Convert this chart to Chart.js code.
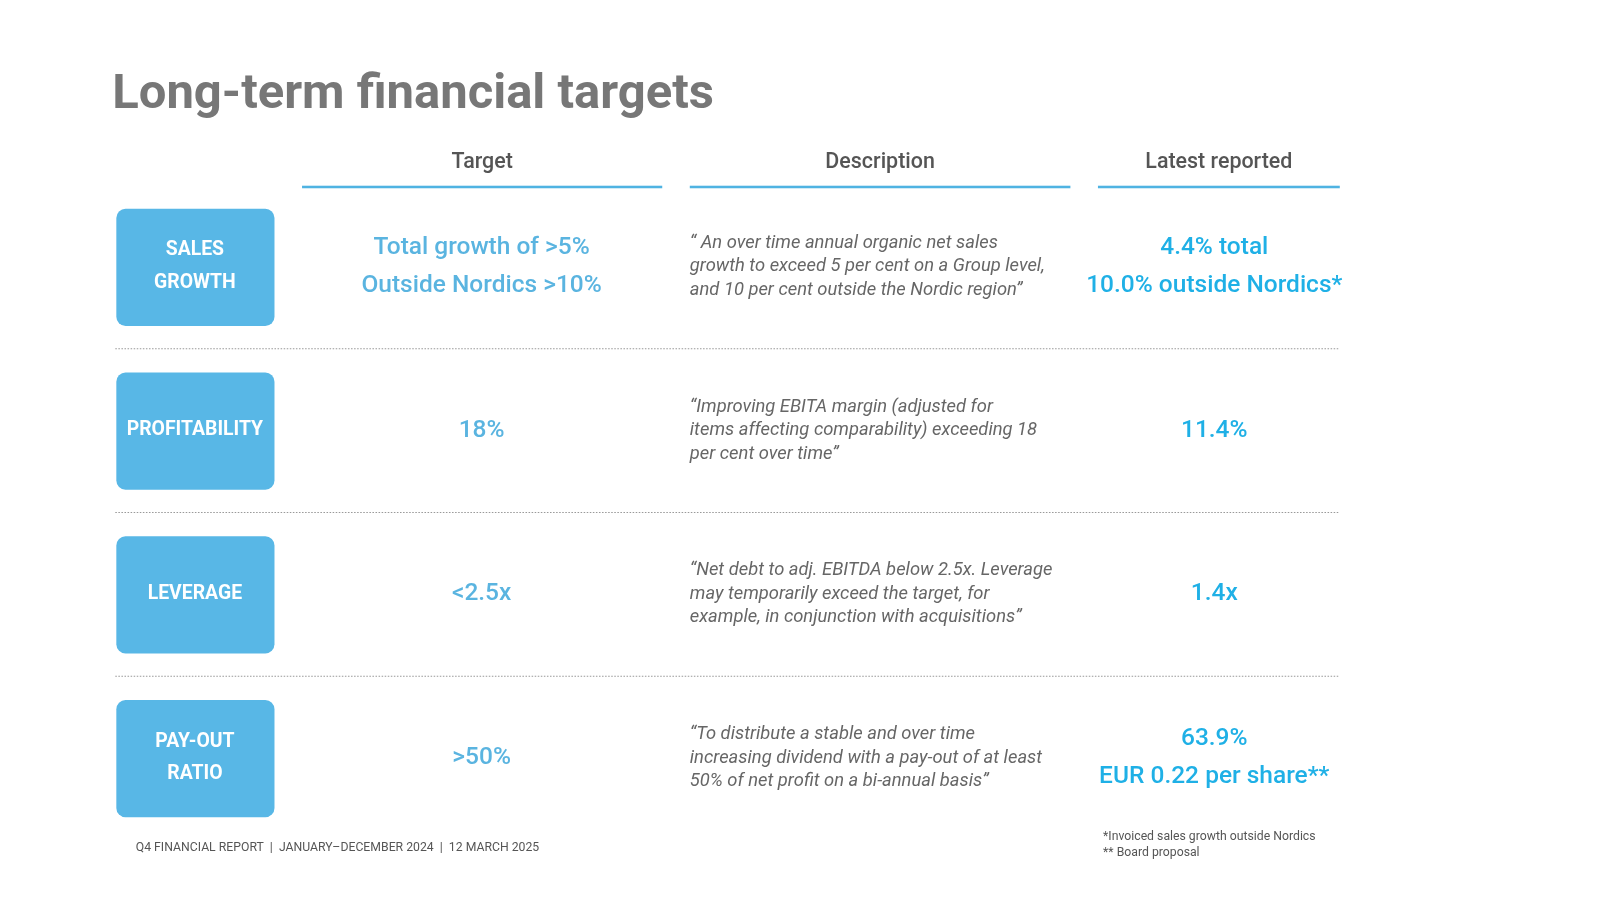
<!DOCTYPE html>
<html><head><meta charset="utf-8">
<script src="https://cdn.jsdelivr.net/npm/chart.js@4"></script>
<style>html,body{margin:0;background:#fff}#w{width:1600px;height:900px}</style>
</head><body><div id="w"><canvas id="c"></canvas></div>
<script>
const categories = [["SALES","GROWTH"],["PROFITABILITY"],["LEVERAGE"],["PAY-OUT","RATIO"]];
const targets = [["Total growth of >5%","Outside Nordics >10%"],["18%"],["<2.5x"],[">50%"]];
const descriptions = [
 ["\u201C An over time annual organic net sales","growth to exceed 5 per cent on a Group level,","and 10 per cent outside the Nordic region\u201D"],
 ["\u201CImproving EBITA margin (adjusted for","items affecting comparability) exceeding 18","per cent over time\u201D"],
 ["\u201CNet debt to adj. EBITDA below 2.5x. Leverage","may temporarily exceed the target, for","example, in conjunction with acquisitions\u201D"],
 ["\u201CTo distribute a stable and over time","increasing dividend with a pay-out of at least","50% of net profit on a bi-annual basis\u201D"]];
const latest = [["4.4% total","10.0% outside Nordics*"],["11.4%"],["1.4x"],["63.9%","EUR 0.22 per share**"]];
const headers = ["Target","Description","Latest reported"];
const title = "Long-term financial targets";
const footer = "Q4 FINANCIAL REPORT  |  JANUARY\u2013DECEMBER 2024  |  12 MARCH 2025";
const footnotes = ["*Invoiced sales growth outside Nordics","** Board proposal"];

const S = 1.0204;
const F = "Roboto, 'Open Sans', sans-serif";
const plugin = {id:'tbl', afterDraw(ch){
 const c = ch.ctx, y = ch.scales.y;
 c.save(); c.scale(S,S); c.textBaseline='middle';
 c.fillStyle='#777'; c.font='bold 48px '+F; c.textAlign='left'; c.fillText(title,110,94);
 const cols=[[296,649],[676,1049],[1076,1313]];
 c.font='500 21px '+F; c.fillStyle='#555'; c.textAlign='center';
 headers.forEach((h,i)=>{c.fillText(h,(cols[i][0]+cols[i][1])/2,159);
   c.fillStyle='#4fb3e2'; c.fillRect(cols[i][0],182,cols[i][1]-cols[i][0],2.5); c.fillStyle='#555';});
 categories.forEach((cat,i)=>{
  const cy = y.getPixelForValue(i)/S;
  c.fillStyle='#58b7e6'; c.beginPath(); c.roundRect(114,cy-57,155,115,9); c.fill();
  c.fillStyle='#fff'; c.font='bold 19px '+F; c.textAlign='center';
  cat.forEach((t,k)=>c.fillText(t,191,cy+(k-(cat.length-1)/2)*32));
  c.fillStyle='#5ab4e0'; c.font='500 24px '+F;
  targets[i].forEach((t,k)=>c.fillText(t,472,cy+(k-(targets[i].length-1)/2)*37));
  c.fillStyle='#1fb0e6';
  latest[i].forEach((t,k)=>c.fillText(t,1190,cy+(k-(latest[i].length-1)/2)*37));
  c.fillStyle='#666'; c.font='italic 18px '+F; c.textAlign='left';
  descriptions[i].forEach((t,k)=>c.fillText(t,676,cy+(k-1)*23));
  if(i<categories.length-1){
   const sy=(cy+y.getPixelForValue(i+1)/S)/2;
   c.strokeStyle='#999'; c.setLineDash([1.5,1.5]); c.lineWidth=1;
   c.beginPath(); c.moveTo(113,sy); c.lineTo(1313,sy); c.stroke(); c.setLineDash([]);
  }
 });
 c.fillStyle='#555'; c.font='12px '+F; c.textAlign='left';
 c.fillText(footer,133,831);
 footnotes.forEach((t,k)=>c.fillText(t,1081,820+k*16));
 c.restore();
}};
new Chart(document.getElementById('c'),{
 type:'bar',
 data:{labels:categories.map(c=>c.join(' ')),datasets:[{data:[null,null,null,null]}]},
 options:{indexAxis:'y',responsive:true,maintainAspectRatio:false,animation:false,
  layout:{padding:{top:185,bottom:60,left:0,right:0}},
  plugins:{legend:{display:false},tooltip:{enabled:false}},
  scales:{x:{display:false,min:0,max:1},y:{display:false,offset:true}}},
 plugins:[plugin]});
</script></body></html>
